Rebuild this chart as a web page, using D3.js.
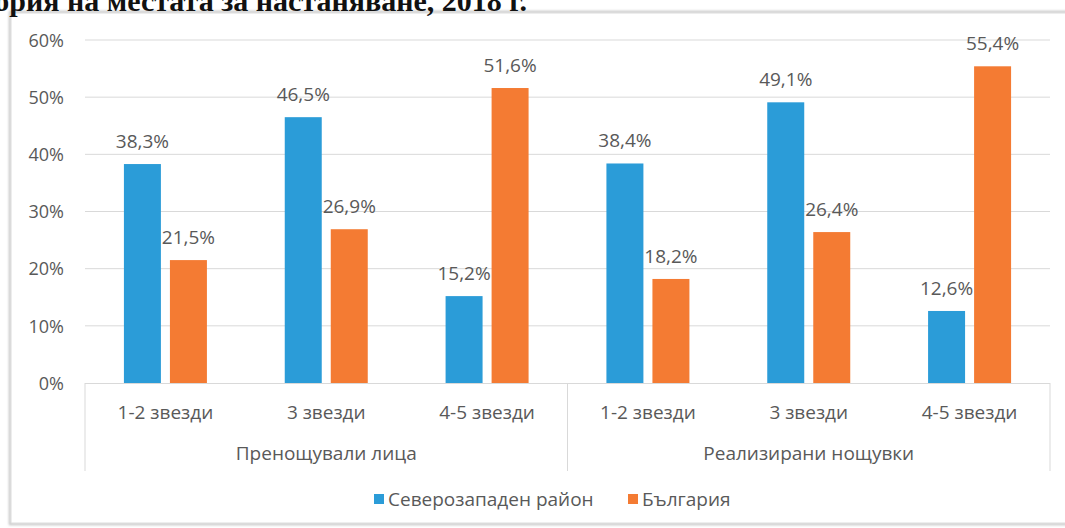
<!DOCTYPE html>
<html>
<head>
<meta charset="utf-8">
<script src="https://cdn.jsdelivr.net/npm/d3@7"></script>
<style>
  html, body { margin: 0; padding: 0; background: #ffffff; }
  svg { display: block; }
</style>
</head>
<body>
<svg id="chart" width="1065" height="528"></svg>
<script>
// Data: share of guests and nights by hotel category, 2018
const groups = ["Пренощували лица", "Реализирани нощувки"];
const stars = ["1-2 звезди", "3 звезди", "4-5 звезди"];
const seriesNames = ["Северозападен район", "България"];
const northwest = [38.3, 46.5, 15.2, 38.4, 49.1, 12.6];
const bulgaria = [21.5, 26.9, 51.6, 18.2, 26.4, 55.4];
const yTicks = [0, 10, 20, 30, 40, 50, 60];
const titleText = "категория на местата за настаняване, 2018 г.";

const colors = ["#2b9cd8", "#f47b33"];
const textColor = "#595959";
const gridColor = "#d9d9d9";
const font = "'Open Sans', sans-serif";

const svg = d3.select("#chart");

// Chart frame
const defs = svg.append("defs");
const sh = defs.append("filter").attr("id", "soft").attr("x", "-5%").attr("y", "-5%").attr("width", "110%").attr("height", "110%");
sh.append("feGaussianBlur").attr("stdDeviation", 1.2);
svg.append("rect").attr("x", 10).attr("y", 12).attr("width", 1080).attr("height", 512)
  .attr("fill", "none").attr("stroke", "#c8c8c8").attr("stroke-width", 2.5).attr("filter", "url(#soft)");
svg.append("rect").attr("x", 11).attr("y", 13).attr("width", 1080).attr("height", 510)
  .attr("fill", "#ffffff").attr("stroke", "#dcdcdc").attr("stroke-width", 1);

// Title (runs off the left and top edges)
svg.append("text")
  .attr("x", 527).attr("y", 11)
  .attr("text-anchor", "end")
  .attr("font-family", "'Liberation Serif', 'Times New Roman', serif")
  .attr("font-weight", "bold")
  .attr("font-size", 30)
  .attr("fill", "#111")
  .text(titleText);

const plot = { left: 85, right: 1050, top: 40, bottom: 383 };

const keys = [];
groups.forEach(g => stars.forEach(s => keys.push(g + "|" + s)));

const x = d3.scaleBand().domain(keys).range([plot.left, plot.right]).paddingInner(0).paddingOuter(0);
const xs = d3.scaleBand().domain(seriesNames).range([-41.5, 41.5]).paddingInner(0.196).paddingOuter(0);
const y = d3.scaleLinear().domain([0, 60]).range([plot.bottom, plot.top]);

// Gridlines
svg.append("g")
  .selectAll("line")
  .data(yTicks.filter(t => t > 0))
  .join("line")
  .attr("x1", plot.left).attr("x2", plot.right)
  .attr("y1", d => y(d)).attr("y2", d => y(d))
  .attr("stroke", gridColor).attr("stroke-width", 1);

// Y axis labels
const yAxis = d3.axisLeft(y).tickValues(yTicks).tickSize(0).tickPadding(0)
  .tickFormat(d => d + "%");
svg.append("g")
  .attr("transform", `translate(64,0)`)
  .call(yAxis)
  .call(g => g.select(".domain").remove())
  .call(g => g.selectAll("text").attr("fill", textColor).attr("font-family", font).attr("font-size", 18).attr("dy", "0.35em"));

// Bars
const rows = keys.map((k, i) => ({ key: k, values: [northwest[i], bulgaria[i]] }));
const barG = svg.append("g");
rows.forEach(r => {
  const cx = x(r.key) + x.bandwidth() / 2;
  seriesNames.forEach((s, j) => {
    const v = r.values[j];
    barG.append("rect")
      .attr("x", cx + xs(s))
      .attr("y", y(v))
      .attr("width", xs.bandwidth())
      .attr("height", y(0) - y(v))
      .attr("fill", colors[j]);
    barG.append("text")
      .attr("x", cx + xs(s) + xs.bandwidth() / 2)
      .attr("y", y(v) - 16)
      .attr("text-anchor", "middle")
      .attr("fill", textColor)
      .attr("font-family", font)
      .attr("font-size", 19)
      .text(d3.format(".1f")(v).replace(".", ",") + "%");
  });
});

// Category axis line
svg.append("line")
  .attr("x1", plot.left).attr("x2", plot.right)
  .attr("y1", plot.bottom + 0.5).attr("y2", plot.bottom + 0.5)
  .attr("stroke", gridColor).attr("stroke-width", 1);

// Group separators
const groupEdges = [0, 3, 6].map(i => i < keys.length ? x(keys[i]) : plot.right);
svg.append("g")
  .selectAll("line")
  .data(groupEdges)
  .join("line")
  .attr("x1", d => d).attr("x2", d => d)
  .attr("y1", plot.bottom).attr("y2", 471)
  .attr("stroke", gridColor).attr("stroke-width", 1);

// First level labels
const xAxis = d3.axisBottom(x).tickSize(0).tickPadding(0).tickFormat(k => k.split("|")[1]);
svg.append("g")
  .attr("transform", `translate(0,${plot.bottom})`)
  .call(xAxis)
  .call(g => g.select(".domain").remove())
  .call(g => g.selectAll("text").attr("fill", textColor).attr("font-family", font).attr("font-size", 19).attr("dy", null).attr("y", 36));

// Group labels
svg.append("g")
  .selectAll("text")
  .data(groups)
  .join("text")
  .attr("x", (d, i) => (groupEdges[i] + groupEdges[i + 1]) / 2)
  .attr("y", 460)
  .attr("text-anchor", "middle")
  .attr("fill", textColor)
  .attr("font-family", font)
  .attr("font-size", 19)
  .text(d => d);

// Legend
const legendX = [374, 628];
const legend = svg.append("g");
seriesNames.forEach((s, i) => {
  legend.append("rect")
    .attr("x", legendX[i]).attr("y", 494)
    .attr("width", 10).attr("height", 10)
    .attr("fill", colors[i]);
  legend.append("text")
    .attr("x", legendX[i] + 14).attr("y", 506)
    .attr("fill", textColor)
    .attr("font-family", font)
    .attr("font-size", 19)
    .text(s);
});
</script>
</body>
</html>
